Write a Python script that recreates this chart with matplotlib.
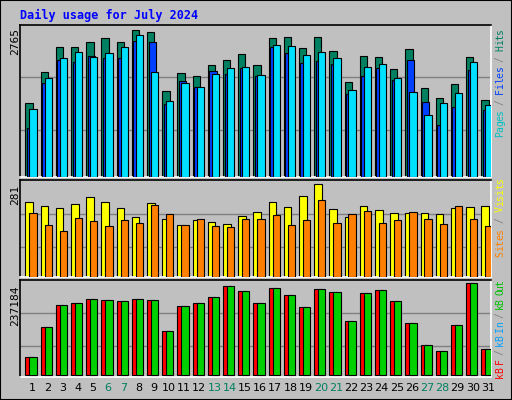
import matplotlib
matplotlib.use("Agg")
import matplotlib.pyplot as plt
import numpy as np

days = list(range(1, 32))
weekends = [6, 7, 13, 14, 20, 21, 27, 28]
hits_y = [247,154,79,79,64,52,64,28,34,211,157,166,133,118,100,133,52,49,82,49,91,184,106,109,145,85,202,232,190,109,238]
files_y = [265,172,112,94,109,97,79,43,154,241,187,199,160,142,139,163,73,76,103,94,112,208,139,130,172,214,283,247,217,124,253]
pages_y = [322,187,118,124,106,112,112,61,64,250,181,199,151,160,142,166,79,97,127,121,130,220,166,142,178,118,244,313,259,148,268]
visits_y = [82,94,100,88,67,82,100,127,85,133,151,136,142,148,124,112,82,97,64,28,103,127,94,106,115,115,115,118,100,97,94]
sites_y = [115,151,166,130,139,154,136,145,91,118,151,133,154,157,133,133,121,151,136,76,145,118,109,145,136,112,133,148,94,133,154]
kb_y = [547,457,391,385,373,376,379,373,376,469,394,385,367,334,349,385,340,361,397,343,352,439,355,346,379,445,511,529,451,327,523]

hits = [2765*(468-v)/440 for v in hits_y]
files = [2765*(468-v)/440 for v in files_y]
pages = [2765*(468-v)/440 for v in pages_y]
visits = [281*(304-v)/276 for v in visits_y]
sites = [281*(304-v)/276 for v in sites_y]
kbf = [237184*(601-v)/274 for v in kb_y]
kbout = [237184*(601-v+0.5)/274 for v in kb_y]

W, H = 512, 400
fig = plt.figure(figsize=(W/100, H/100), dpi=100)
fig.patch.set_facecolor('#C0C0C0')
fig.add_artist(plt.Rectangle((0, 0), 1, 1, transform=fig.transFigure, fill=False, ec='black', lw=1.5))

def ax_at(top, bottom):
    return fig.add_axes([20/W, 1-bottom/H, 471/W, (bottom-top)/H])

x = np.array(days)
lw = 0.8
def style(ax, ymax, frac):
    ax.set_facecolor('#C0C0C0')
    ax.set_xlim(0.6, 31.6)
    ax.set_ylim(0, ymax)
    ax.set_xticks([]); ax.set_yticks([])
    for f in (0.32, 0.68):
        ax.axhline(ymax*frac*f, color='#808080', lw=1, zorder=0)
    for s in ax.spines.values():
        s.set_color('black'); s.set_linewidth(1.2)
    ax.spines['bottom'].set_color('white'); ax.spines['right'].set_color('white')

ax1 = ax_at(25, 177)
style(ax1, 2765*456/440, 440/456)
ax1.bar(x-0.04, hits, 0.48, align='edge', color='#008060', ec='black', lw=lw, zorder=2)
ax1.bar(x+0.06, pages, 0.48, align='edge', color='#0040FF', ec='black', lw=lw, zorder=3)
ax1.bar(x+0.22, files, 0.48, align='edge', color='#00E0FF', ec='black', lw=lw, zorder=4)

ax2 = ax_at(180, 277)
style(ax2, 281*288/276, 276/288)
ax2.bar(x-0.04, visits, 0.5, align='edge', color='#FFFF00', ec='black', lw=lw, zorder=2)
ax2.bar(x+0.22, sites, 0.48, align='edge', color='#FF8000', ec='black', lw=lw, zorder=3)

ax3 = ax_at(280, 377)
style(ax3, 237184*290/274, 274/290)
ax3.set_ylim(-237184*6/274, 237184*284/274)
ax3.bar(x-0.04, kbf, 0.5, align='edge', color='#FF0000', ec='black', lw=lw, zorder=2)
ax3.bar(x+0.22, kbout, 0.48, align='edge', color='#00D000', ec='black', lw=lw, zorder=3)

mono = 'DejaVu Sans Mono'
fig.text(20/W, 1-15/H, 'Daily usage for July 2024', color='#0000FF', fontsize=8.5,
         fontweight='bold', family=mono, va='center', ha='left')
for d in days:
    fig.text((20+(d+0.4-0.6)*471/31)/W, 1-388/H, str(d), ha='center', va='center',
             fontsize=8, color='#008060' if d in weekends else 'black')
for lab, y in [('2765', 28), ('281', 185), ('237184', 285)]:
    fig.text(15/W, 1-y/H, lab, rotation=90, ha='center', va='top', fontsize=8, family=mono)

def rlabel(parts, ybot, ytop):
    text = ''.join(t for t, _ in parts)
    cols = [c for t, c in parts for _ in t]
    cw = (ybot - ytop) / len(text)
    for i, (ch, c) in enumerate(zip(text, cols)):
        if ch == ' ':
            continue
        fig.text(500/W, 1-(ybot-(i+0.5)*cw)/H, ch, rotation=90, ha='center', va='center',
                 color=c, fontsize=7, family=mono)
rlabel([('Pages', '#00C0C0'), (' / ', '#808080'), ('Files', '#0040FF'),
        (' / ', '#808080'), ('Hits', '#008060')], 137, 29)
rlabel([('Sites', '#FF8000'), (' / ', '#808080'), ('Visits', '#FFFF00')], 257, 178)
rlabel([('kB F', '#FF0000'), (' / ', '#808080'), ('kB In', '#00A0FF'),
        (' / ', '#808080'), ('kB Out', '#00C000')], 377, 281)

fig.savefig('out.png', dpi=100, facecolor=fig.get_facecolor())
